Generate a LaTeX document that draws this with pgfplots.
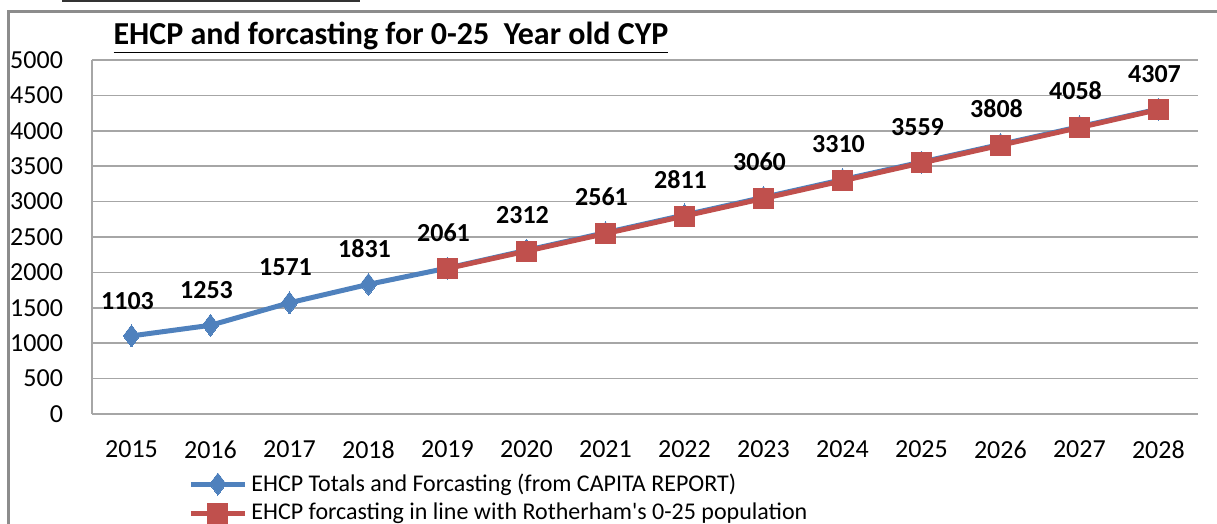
\documentclass[border=0pt]{standalone}
\usepackage{fontspec}
\setmainfont{Carlito}[Ligatures=TeXOff]
\usepackage{pgfplots}
\pgfplotsset{compat=1.18}
\definecolor{ehcpblue}{HTML}{4F81BD}
\definecolor{ehcpred}{HTML}{C0504D}
\definecolor{framegray}{HTML}{8C8C8C}
\definecolor{gridgray}{HTML}{A6A6A6}

\begin{document}
\begin{tikzpicture}
% page = 1217 x 524 px at 0.5pt per px
\useasboundingbox (0,0) rectangle (608.5pt,262pt);
\draw[framegray,line width=1.5pt] (4pt,-10pt) -- (4pt,256pt) -- (620pt,256pt);
\draw[black!80,line width=1pt] (31pt,261.5pt) -- (180pt,261.5pt);
\node[font=\fontsize{16}{18}\selectfont\bfseries] at (195.5pt,243pt) {\underline{EHCP and forcasting for 0-25\ \ Year old CYP}};
\begin{axis}[
  at={(46pt,55pt)},anchor=south west,
  scale only axis,width=553pt,height=177pt,
  xmin=2014.5,xmax=2028.5,ymin=0,ymax=5000,
  xtick={2015,...,2028},ytick={0,500,...,5000},
  axis x line=bottom,axis y line=left,
  axis line style={gridgray,line width=0.8pt,-},
  major tick length=0pt,
  ymajorgrids,grid style={gridgray,line width=0.8pt},
  /pgf/number format/assume math mode=true,
  /pgf/number format/1000 sep={},
  tick label style={font=\fontsize{13}{15}\selectfont},
  yticklabel style={xshift=-11pt},
  xticklabel style={yshift=-10pt},
  legend style={at={(0.0886,-0.145)},anchor=north west,draw=none,fill=none,
    font=\fontsize{12}{14}\selectfont,row sep=0.5pt,xshift=-4pt,
    /tikz/every even column/.append style={column sep=0pt}},
  legend cell align=left,
  legend image code/.code={\draw[mark repeat=2,mark phase=2,#1] plot coordinates {(0pt,0pt)(13.5pt,0pt)(27pt,0pt)};},
  clip=false,
]
\addplot[ehcpblue,line width=2.5pt,mark=diamond*,mark size=5.5pt,mark options={solid,line width=0pt},
  nodes near coords,nodes near coords style={font=\fontsize{13}{15}\selectfont\bfseries,black,anchor=south,yshift=10pt,xshift=-2pt},
  point meta=explicit symbolic]
  coordinates {(2015,1103)[1103] (2016,1253)[1253] (2017,1571)[1571] (2018,1831)[1831] (2019,2061)[2061] (2020,2312)[2312] (2021,2561)[2561] (2022,2811)[2811] (2023,3060)[3060] (2024,3310)[3310] (2025,3559)[3559] (2026,3808)[3808] (2027,4058)[4058] (2028,4307)[4307]};
\addlegendentry{EHCP Totals and Forcasting (from CAPITA REPORT)}
\addplot[ehcpred,line width=2.5pt,mark=square*,mark size=5pt,mark options={solid,line width=0pt}]
  coordinates {(2019,2055) (2020,2300) (2021,2548) (2022,2796) (2023,3044) (2024,3294) (2025,3546) (2026,3796) (2027,4046) (2028,4300)};
\addlegendentry{EHCP forcasting in line with Rotherham's 0-25 population}
\end{axis}
\end{tikzpicture}
\end{document}
